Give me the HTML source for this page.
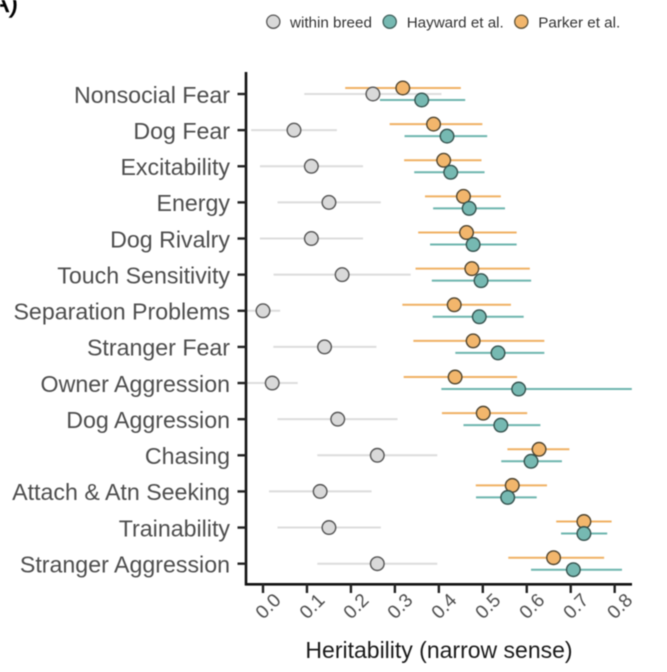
<!DOCTYPE html>
<html>
<head>
<meta charset="utf-8">
<title>Heritability chart</title>
<style>
html,body{margin:0;padding:0;background:#fff;width:667px;height:672px;overflow:hidden}
svg{display:block;filter:blur(0.55px)}
text{font-family:"Liberation Sans",sans-serif}
</style>
</head>
<body>
<svg id="chart" xmlns="http://www.w3.org/2000/svg" width="667" height="672" viewBox="0 0 667 672">
  <rect width="667" height="672" fill="#fff"/>
  <text x="18" y="12" text-anchor="end" font-size="27" fill="#000" stroke="#000" stroke-width="0.6">(A)</text>
  <g>
    <g>
      <circle cx="273.3" cy="21.7" r="6.6" fill="#d9d9d9" stroke="#555" stroke-width="1.3"/>
      <text x="290" y="27.3" font-size="15.2" fill="#333">within breed</text>
    </g>
    <g>
      <circle cx="389.7" cy="21.7" r="6.6" fill="#76b9b2" stroke="#3f5f5b" stroke-width="1.3"/>
      <text x="406.7" y="27.3" font-size="15.2" fill="#333">Hayward et al.</text>
    </g>
    <g>
      <circle cx="521.3" cy="21.7" r="6.6" fill="#f2b66c" stroke="#5f5238" stroke-width="1.3"/>
      <text x="538.3" y="27.3" font-size="15.2" fill="#333">Parker et al.</text>
    </g>
  </g>
  <g id="marks"></g>
  <g id="axes"></g>
  <text x="439" y="658" text-anchor="middle" font-size="23" fill="#1a1a1a">Heritability (narrow sense)</text>
</svg>
<script>
const categories = ["Nonsocial Fear","Dog Fear","Excitability","Energy","Dog Rivalry","Touch Sensitivity","Separation Problems","Stranger Fear","Owner Aggression","Dog Aggression","Chasing","Attach & Atn Seeking","Trainability","Stranger Aggression"];
const xTickLabels = ["0.0","0.1","0.2","0.3","0.4","0.5","0.6","0.7","0.8"];

const withinEstimate = [0.250,0.0705,0.110,0.150,0.110,0.180,0.000,0.140,0.021,0.170,0.260,0.130,0.150,0.260];
const withinLower = [0.094,-0.027,-0.007,0.033,-0.007,0.024,-0.039,0.0235,-0.037,0.033,0.1236,0.0136,0.033,0.1236];
const withinUpper = [0.406,0.168,0.2275,0.268,0.2275,0.336,0.039,0.258,0.079,0.306,0.3965,0.247,0.268,0.3965];

const haywardEstimate = [0.361,0.4186,0.427,0.469,0.478,0.496,0.492,0.5346,0.5816,0.541,0.6097,0.5566,0.730,0.706];
const haywardLower = [0.266,0.322,0.344,0.387,0.380,0.384,0.386,0.4375,0.4057,0.456,0.542,0.4845,0.678,0.6097];
const haywardUpper = [0.460,0.510,0.504,0.5505,0.577,0.610,0.593,0.640,0.839,0.631,0.680,0.6226,0.783,0.8166];

const parkerEstimate = [0.318,0.388,0.411,0.456,0.463,0.475,0.435,0.478,0.437,0.501,0.628,0.567,0.730,0.661];
const parkerLower = [0.187,0.288,0.321,0.3685,0.353,0.347,0.317,0.342,0.320,0.407,0.556,0.484,0.667,0.558];
const parkerUpper = [0.450,0.499,0.497,0.541,0.577,0.607,0.564,0.640,0.578,0.601,0.697,0.646,0.793,0.776];

const SVGNS = "http://www.w3.org/2000/svg";
const marks = document.getElementById("marks");
const axes = document.getElementById("axes");

function xScale(v){ return 263 + 439.6 * v; }
function yScale(i){ return 94 + 36.13 * i; }
function make(tag, attrs, parent){
  const el = document.createElementNS(SVGNS, tag);
  for (const k in attrs) el.setAttribute(k, attrs[k]);
  parent.appendChild(el);
  return el;
}

function drawRanges(key, lower, upper, dodge, color, width){
  categories.forEach(function(cat, i){
    const y = yScale(i) + dodge;
    const line = make("line", {x1:xScale(lower[i]), x2:xScale(upper[i]), y1:y, y2:y, stroke:color, "stroke-width":width}, marks);
    
    
  });
}
function drawPoints(key, est, dodge, fill, stroke){
  categories.forEach(function(cat, i){
    const c = make("circle", {cx:xScale(est[i]), cy:yScale(i) + dodge, r:6.8, fill:fill, stroke:stroke, "stroke-width":1.4}, marks);
    
    
  });
}

drawRanges("within", withinLower, withinUpper, 0, "#dcdcdc", 2);
drawRanges("parker", parkerLower, parkerUpper, -6, "#f0b163", 2);
drawRanges("hayward", haywardLower, haywardUpper, 6, "#6db5ae", 2);
drawPoints("parker", parkerEstimate, -6, "#f2b66c", "#4f4530");
drawPoints("hayward", haywardEstimate, 6, "#76b9b2", "#35524e");
drawPoints("within", withinEstimate, 0, "#d9d9d9", "#555555");

const yAxisLine = make("line", {x1:246, x2:246, y1:72, y2:585.5, stroke:"#111", "stroke-width":2.6}, axes);


const xAxisLine = make("line", {x1:245, x2:632, y1:584.3, y2:584.3, stroke:"#111", "stroke-width":2.6}, axes);



categories.forEach(function(cat, i){
  const y = yScale(i);
  const tick = make("line", {x1:237.5, x2:246, y1:y, y2:y, stroke:"#222", "stroke-width":2.4}, axes);
  
  
  const label = make("text", {x:230, y:y + 8.8, "text-anchor":"end", "font-size":23.2, fill:"#4d4d4d"}, axes);
  label.textContent = cat;
  
  
});

xTickLabels.forEach(function(t){
  const x = xScale(parseFloat(t));
  const tick = make("line", {x1:x, x2:x, y1:584, y2:593, stroke:"#222", "stroke-width":2.4}, axes);
  
  
  const cx = x + 5, cy = 606;
  const label = make("text", {x:cx, y:cy + 6.5, "text-anchor":"middle", "font-size":19, fill:"#4d4d4d", transform:"rotate(-45 " + cx + " " + cy + ")"}, axes);
  label.textContent = t;
  
  
});
</script>
</body>
</html>
